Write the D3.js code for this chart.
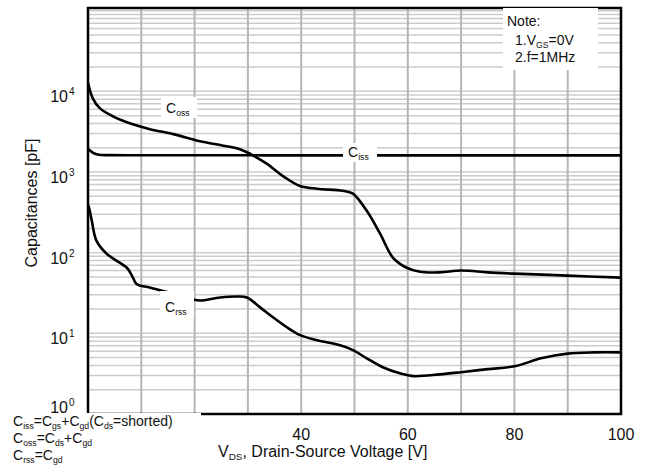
<!DOCTYPE html>
<html>
<head>
<meta charset="utf-8">
<script src="https://cdn.jsdelivr.net/npm/d3@7"></script>
<style>
  body { margin: 0; background: #fff; }
  text { font-family: "Liberation Sans", Arial, sans-serif; }
</style>
</head>
<body>
<div id="chart"></div>
<script>
// Data (V in volts, C in pF)
const cissV = [0, 0.5, 1, 2, 4, 10, 20, 40, 60, 80, 100];
const cissC = [1950, 1820, 1720, 1640, 1620, 1615, 1612, 1610, 1610, 1610, 1610];

const cossV = [0, 0.9, 2.2, 4.7, 8.4, 11.6, 16, 21, 25, 28.5, 30.5, 33.6, 36.6, 39.8, 43, 47.8, 49.7, 52.3, 54.8, 57.2, 59.8, 62.3, 66, 70, 75, 80, 90, 100];
const cossC = [12800, 8200, 6200, 4900, 3900, 3400, 2950, 2400, 2150, 1920, 1670, 1260, 890, 670, 620, 585, 540, 330, 172, 87, 65, 58, 57, 60, 57, 55, 52, 49];

const crssV = [0, 0.2, 0.7, 1.6, 3.5, 7.3, 7.9, 8.5, 9.1, 11.6, 16, 19.7, 21, 24.8, 28, 29.8, 32.3, 34.7, 37.3, 39.8, 43, 47.3, 49.7, 52.3, 55.3, 58.5, 61, 66, 70, 75, 80, 85, 90, 95, 100];
const crssC = [390, 360, 250, 140, 97, 65, 57, 48, 41, 37, 31, 26.3, 25.5, 27.8, 28.6, 27.8, 21, 15.8, 11.9, 9.5, 8.2, 7.1, 6.2, 4.9, 3.8, 3.2, 2.95, 3.1, 3.3, 3.6, 3.9, 4.9, 5.6, 5.8, 5.8];

const xTicks = [40, 60, 80, 100];
const yTicks = [1, 10, 100, 1000, 10000];

const margin = { top: 8, right: 30, bottom: 54, left: 88 };
const W = 651, H = 468;
const width = W - margin.left - margin.right;
const height = H - margin.top - margin.bottom;

const svg = d3.select("#chart").append("svg")
  .attr("width", W).attr("height", H);

const x = d3.scaleLinear().domain([0, 100]).range([margin.left, margin.left + width]);
const y = d3.scaleLog().domain([1, 1.08e5]).range([margin.top + height, margin.top]);

// grid
const hLines = [];
for (let e = 0; e < 5; e++) for (let k = 1; k <= 9; k++) hLines.push(k * Math.pow(10, e));
hLines.push(1e5);
svg.append("g").selectAll("line").data(hLines).join("line")
  .attr("x1", x(0)).attr("x2", x(100))
  .attr("y1", d => y(d)).attr("y2", d => y(d))
  .attr("stroke", "#cccccc").attr("stroke-width", 1.5);

svg.append("g").selectAll("line").data(d3.range(10, 100, 10)).join("line")
  .attr("x1", d => x(d)).attr("x2", d => x(d))
  .attr("y1", margin.top).attr("y2", margin.top + height)
  .attr("stroke", "#b5b5b5").attr("stroke-width", 2);

// frame
svg.append("rect")
  .attr("x", margin.left).attr("y", margin.top)
  .attr("width", width).attr("height", height)
  .attr("fill", "none").attr("stroke", "#000").attr("stroke-width", 2.5);

// curves
const line = d3.line()
  .x(d => x(d[0])).y(d => y(d[1]))
  .curve(d3.curveCatmullRom.alpha(0.5));

[[cissV, cissC], [cossV, cossC], [crssV, crssC]].forEach(([vs, cs]) => {
  svg.append("path")
    .datum(vs.map((v, i) => [v, cs[i]]))
    .attr("fill", "none")
    .attr("stroke", "#000")
    .attr("stroke-width", 2.6)
    .attr("d", line);
});

// text with subscripts
function richText(g, px, py, parts, size, anchor) {
  const t = g.append("text").attr("x", px).attr("y", py)
    .attr("font-size", size).attr("fill", "#111")
    .attr("text-anchor", anchor || "start");
  parts.forEach(p => {
    const s = t.append("tspan").text(p[0]);
    if (p[1] === "sub") s.attr("font-size", size * 0.62).attr("dy", 3);
    else if (p[1] === "back") s.attr("dy", -3);
  });
  return t;
}

// white label boxes
const boxes = [
  [503, 8, 95, 62],   // note
  [161, 97, 36, 21],  // Coss
  [343, 143, 34, 19], // Ciss
  [160, 291, 34, 26], // Crss
  [0, 413, 201, 55]   // formulas
];
svg.append("g").selectAll("rect").data(boxes).join("rect")
  .attr("x", d => d[0]).attr("y", d => d[1])
  .attr("width", d => d[2]).attr("height", d => d[3])
  .attr("fill", "#fff");

// curve labels
richText(svg, 166, 113, [["C"], ["oss", "sub"]], 14);
richText(svg, 348, 157, [["C"], ["iss", "sub"]], 14);
richText(svg, 165, 312, [["C"], ["rss", "sub"]], 14);

// note
richText(svg, 507, 26, [["Note:"]], 14);
richText(svg, 515, 45, [["1.V"], ["GS", "sub"], ["=0V", "back"]], 14);
richText(svg, 515, 62, [["2.f=1MHz"]], 14);

// y tick labels: 10 with exponent
yTicks.forEach(v => {
  const py = v === 1 ? 413 : y(v) + 11;
  richText(svg, 68, py, [["10"]], 16, "end");
  svg.append("text").attr("x", 69).attr("y", py - 7)
    .attr("font-size", 10).attr("fill", "#111").text(Math.round(Math.log10(v)));
});

// x tick labels
svg.append("g").selectAll("text").data(xTicks).join("text")
  .attr("x", d => x(d)).attr("y", 440)
  .attr("text-anchor", "middle").attr("font-size", 16).attr("fill", "#111")
  .text(d => d);

// axis titles
svg.append("text")
  .attr("transform", "rotate(-90)")
  .attr("x", -203).attr("y", 37)
  .attr("text-anchor", "middle").attr("font-size", 16).attr("fill", "#111")
  .text("Capacitances [pF]");

richText(svg, 218, 457, [["V"], ["DS", "sub"], [", Drain-Source Voltage [V]", "back"]], 16);

// formulas
richText(svg, 13, 426, [["C"], ["iss", "sub"], ["=C", "back"], ["gs", "sub"], ["+C", "back"], ["gd", "sub"], ["(C", "back"], ["ds", "sub"], ["=shorted)", "back"]], 14);
richText(svg, 13, 443, [["C"], ["oss", "sub"], ["=C", "back"], ["ds", "sub"], ["+C", "back"], ["gd", "sub"]], 14);
richText(svg, 13, 460, [["C"], ["rss", "sub"], ["=C", "back"], ["gd", "sub"]], 14);
</script>
</body>
</html>
